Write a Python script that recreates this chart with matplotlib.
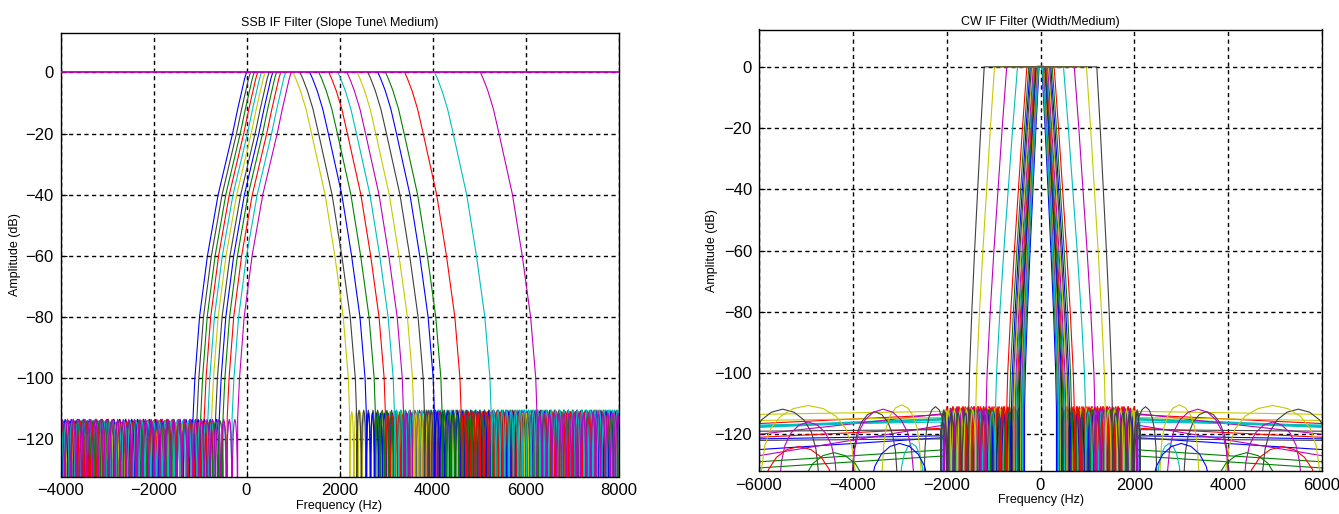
import numpy as np
import matplotlib.pyplot as plt

plt.rcParams["font.family"] = ["Liberation Sans", "DejaVu Sans"]

# MATLAB-style line colours
COL = {"b": "#0000FF", "g": "#008000", "r": "#FF0000", "c": "#00BFBF",
       "m": "#BF00BF", "y": "#C8C800", "k": "#404040"}
CYCLE = ["b", "g", "r", "c", "m", "y", "k"]

# ---------------- SSB IF filter (slope tune) ----------------
SKIRT_DB = [0, -2, -6, -12, -20, -40, -60, -80, -100, -113]
SSB_LOW_SKIRT_HZ = [0, 40, 100, 190, 300, 610, 840, 1010, 1110, 1150]
SSB_HIGH_SKIRT_HZ = [0, 60, 160, 280, 400, 690, 900, 1080, 1190, 1220]

SSB_LOW_CORNER = [0, 85, 165, 240, 320, 400, 485, 565, 645, 735, 840, 960]
SSB_LOW_COLORS = ["b", "k", "g", "r", "c", "y", "k", "b", "g", "r", "c", "m"]
SSB_LOW_LOBE_HZ = [130, 120, 140, 125, 115, 135, 120, 130, 110, 140, 125, 120]
SSB_LOW_LOBE_TOP = [-114, -114.5, -114, -113.5, -114, -114.5, -114, -113.5,
                    -114, -114.5, -114, -113.5]

SSB_HIGH_CORNER = [1000, 1150, 1360, 1555, 1770, 1965, 2160, 2380, 2610,
                   2825, 2990, 3400, 4045, 5030]
SSB_HIGH_COLORS = ["y", "k", "b", "g", "r", "c", "m", "y", "k", "b", "g",
                   "r", "c", "m"]
SSB_HIGH_LOBE_HZ = [90, 100, 85, 95, 105, 90, 100, 85, 95, 110, 90, 100, 95, 105]
SSB_HIGH_LOBE_TOP = [-111, -110.5, -111.5, -111, -112, -110.5, -111, -111.5,
                     -110.5, -111, -112, -111, -110.5, -111.5]

# stopband lobe template (fraction of lobe width, dB relative to lobe top)
LOBE_FRAC = [0, 0.08, 0.2, 0.35, 0.5, 0.65, 0.8, 0.92, 1.0]
LOBE_DB = [-45, -14, -5, -1.2, 0, -1.2, -5, -14, -45]

# ---------------- CW IF filter (width) ----------------
CW_TOP_HZ = [30, 40, 50, 60, 70, 80, 90, 100, 110, 125, 140, 155, 175, 195,
             220, 250, 290, 490, 720, 980, 1200]
CW_BOT_HZ = [340, 365, 385, 400, 415, 430, 445, 460, 480, 500, 520, 540, 565,
             590, 620, 660, 720, 960, 1160, 1380, 1530]
CW_SKIRT_DB = [0, -20, -40, -60, -80, -100, -112]
CW_SKIRT_FRAC = [0, 0.22, 0.42, 0.62, 0.8, 0.95, 1.0]
CW_NEAR_END = [1900, 1900, 1900, 1850, 1900, 1950, 1900, 2000, 1950, 2000,
               2100, 2000, 1950, 2000, 1900, 1800, 1800, 1800, 1900, 2000, 1985]
CW_NEAR_LOBE_HZ = [85, 95, 110, 80, 100, 120, 90, 85, 115, 130, 100, 95, 120,
                   140, 105, 100, 125, 140, 115, 130, 150]
CW_NEAR_TOP = [-112, -113.5, -111, -112.5, -111.5, -112, -113, -112.5, -111.5,
               -111, -112.5, -113, -111.5, -112, -113.5, -112, -111, -112.5,
               -111.5, -112, -113]

# far stopband: slowly sloping sidelobe envelopes
CW_LINE_IDX = [0, 1, 2, 3, 4, 5, 6, 7, 8, 9, 10, 11, 12, 13]
CW_LINE_DB0 = [-121, -125, -113.5, -115, -113, -114.5, -121.5, -120.5, -127,
               -118, -116, -117, -112.5, -118.5]
CW_LINE_DB1 = [-125, -129, -116.5, -117.5, -120, -115.5, -122, -121.5, -131,
               -121, -117, -127, -113.5, -119]

# far stopband: wide arcs
CW_ARC_IDX = [20, 20, 20, 19, 19, 18, 18, 17, 16, 15, 14]
CW_ARC_F0 = [1985, 3030, 4690, 2527, 3900, 2670, 4300, 2450, 4300, 3600, 2300]
CW_ARC_F1 = [2490, 4040, 6300, 3393, 6000, 4040, 5600, 3030, 6000, 5200, 3700]
CW_ARC_TOP = [-111, -112.6, -111.8, -110.4, -110.6, -111.8, -116, -123, -124,
              -126, -123]
ARC_FRAC = [0, 0.02, 0.06, 0.12, 0.22, 0.35, 0.5, 0.65, 0.78, 0.88, 0.94, 0.98, 1]
ARC_DB = [-40, -22, -13, -7.5, -3.5, -1, 0, -1, -3.5, -7.5, -13, -22, -40]


def lobe_train(f_start, f_end, width, top):
    """Tile the lobe template from f_start towards f_end."""
    sign = 1 if f_end > f_start else -1
    n = int(np.ceil(abs(f_end - f_start) / width))
    fr = np.array(LOBE_FRAC)
    fs, ds = [], []
    for k in range(n):
        base = f_start + sign * k * width
        fs.append(base + sign * width * fr)
        ds.append(top + np.array(LOBE_DB))
    return np.concatenate(fs), np.concatenate(ds)


def style_axes(ax, xlim, ylim, xticks, title, title_pad, lab_x, lab_y):
    ax.set_xlim(*xlim)
    ax.set_ylim(*ylim)
    ax.set_xticks(xticks)
    ax.set_yticks([0, -20, -40, -60, -80, -100, -120])
    ax.set_axisbelow(True)
    ax.grid(True, color="black", linestyle=(0, (3, 2.5)), linewidth=1.0)
    ax.tick_params(direction="in", length=4, labelsize=12, pad=5)
    for s in ax.spines.values():
        s.set_linewidth(1.0)
    ax.set_title(title, fontsize=9, pad=title_pad)
    ax.set_xlabel("Frequency (Hz)", fontsize=9)
    ax.set_ylabel("Amplitude (dB)", fontsize=9)
    ax.xaxis.set_label_coords(0.5, lab_y)
    ax.yaxis.set_label_coords(lab_x, 0.5)


fig = plt.figure(figsize=(13.39, 5.14), dpi=100)
ax1 = fig.add_axes([60.5 / 1339, 1 - 476.5 / 514, 558 / 1339, 443.5 / 514])
ax2 = fig.add_axes([759 / 1339, 1 - 471 / 514, 563 / 1339, 441.5 / 514])

lw = 0.8

# SSB: low-cut skirts with stopband to the left
for i, corner in enumerate(SSB_LOW_CORNER):
    offs = np.array(SSB_LOW_SKIRT_HZ)
    f_bot = corner - offs[-1]
    sf, sd = lobe_train(f_bot, -4200, SSB_LOW_LOBE_HZ[i], SSB_LOW_LOBE_TOP[i])
    f = np.concatenate([sf[::-1], corner - offs[::-1]])
    d = np.concatenate([sd[::-1], np.array(SKIRT_DB)[::-1]])
    ax1.plot(f, d, color=COL[SSB_LOW_COLORS[i]], lw=lw)

# SSB: high-cut skirts with stopband to the right
for i, corner in enumerate(SSB_HIGH_CORNER):
    offs = np.array(SSB_HIGH_SKIRT_HZ)
    f_bot = corner + offs[-1]
    sf, sd = lobe_train(f_bot, 8200, SSB_HIGH_LOBE_HZ[i], SSB_HIGH_LOBE_TOP[i])
    f = np.concatenate([corner + offs, sf])
    d = np.concatenate([np.array(SKIRT_DB), sd])
    ax1.plot(f, d, color=COL[SSB_HIGH_COLORS[i]], lw=lw)

ax1.plot([-4000, 8000], [0, 0], color=COL["m"], lw=1.3, zorder=5)

style_axes(ax1, (-4000, 8000), (-132.2, 12.9),
           [-4000, -2000, 0, 2000, 4000, 6000, 8000],
           "SSB IF Filter (Slope Tune\\ Medium)", 5, -0.07, -0.052)

# CW: symmetric band-pass responses
for i in range(len(CW_TOP_HZ)):
    T, B = CW_TOP_HZ[i], CW_BOT_HZ[i]
    fr = np.array(CW_SKIRT_FRAC)
    f_sk = T + (B - T) * fr
    d_sk = np.array(CW_SKIRT_DB, dtype=float)
    nf, nd = lobe_train(B, CW_NEAR_END[i], CW_NEAR_LOBE_HZ[i], CW_NEAR_TOP[i])
    parts_f, parts_d = [f_sk, nf], [d_sk, nd]
    if i in CW_LINE_IDX:
        j = CW_LINE_IDX.index(i)
        parts_f.append(np.array([nf[-1], 6000, 6400]))
        parts_d.append(np.array([CW_LINE_DB0[j], CW_LINE_DB1[j], CW_LINE_DB1[j]]))
    fr_ = np.concatenate(parts_f)
    dr_ = np.concatenate(parts_d)
    f = np.concatenate([-fr_[::-1], fr_])
    d = np.concatenate([dr_[::-1], dr_])
    lwi = 2.0 if i == 3 else lw
    ax2.plot(f, d, color=COL[CYCLE[i % 7]], lw=lwi)

for j, i in enumerate(CW_ARC_IDX):
    f0, f1 = CW_ARC_F0[j], CW_ARC_F1[j]
    fa = f0 + (f1 - f0) * np.array(ARC_FRAC)
    da = CW_ARC_TOP[j] + np.array(ARC_DB)
    for sgn in (1, -1):
        ax2.plot(sgn * fa, da, color=COL[CYCLE[i % 7]], lw=lw)

style_axes(ax2, (-6000, 6000), (-132, 12.2),
           [-6000, -4000, -2000, 0, 2000, 4000, 6000],
           "CW IF Filter (Width/Medium)", 3, -0.073, -0.052)

fig.savefig("out.png", dpi=100)
